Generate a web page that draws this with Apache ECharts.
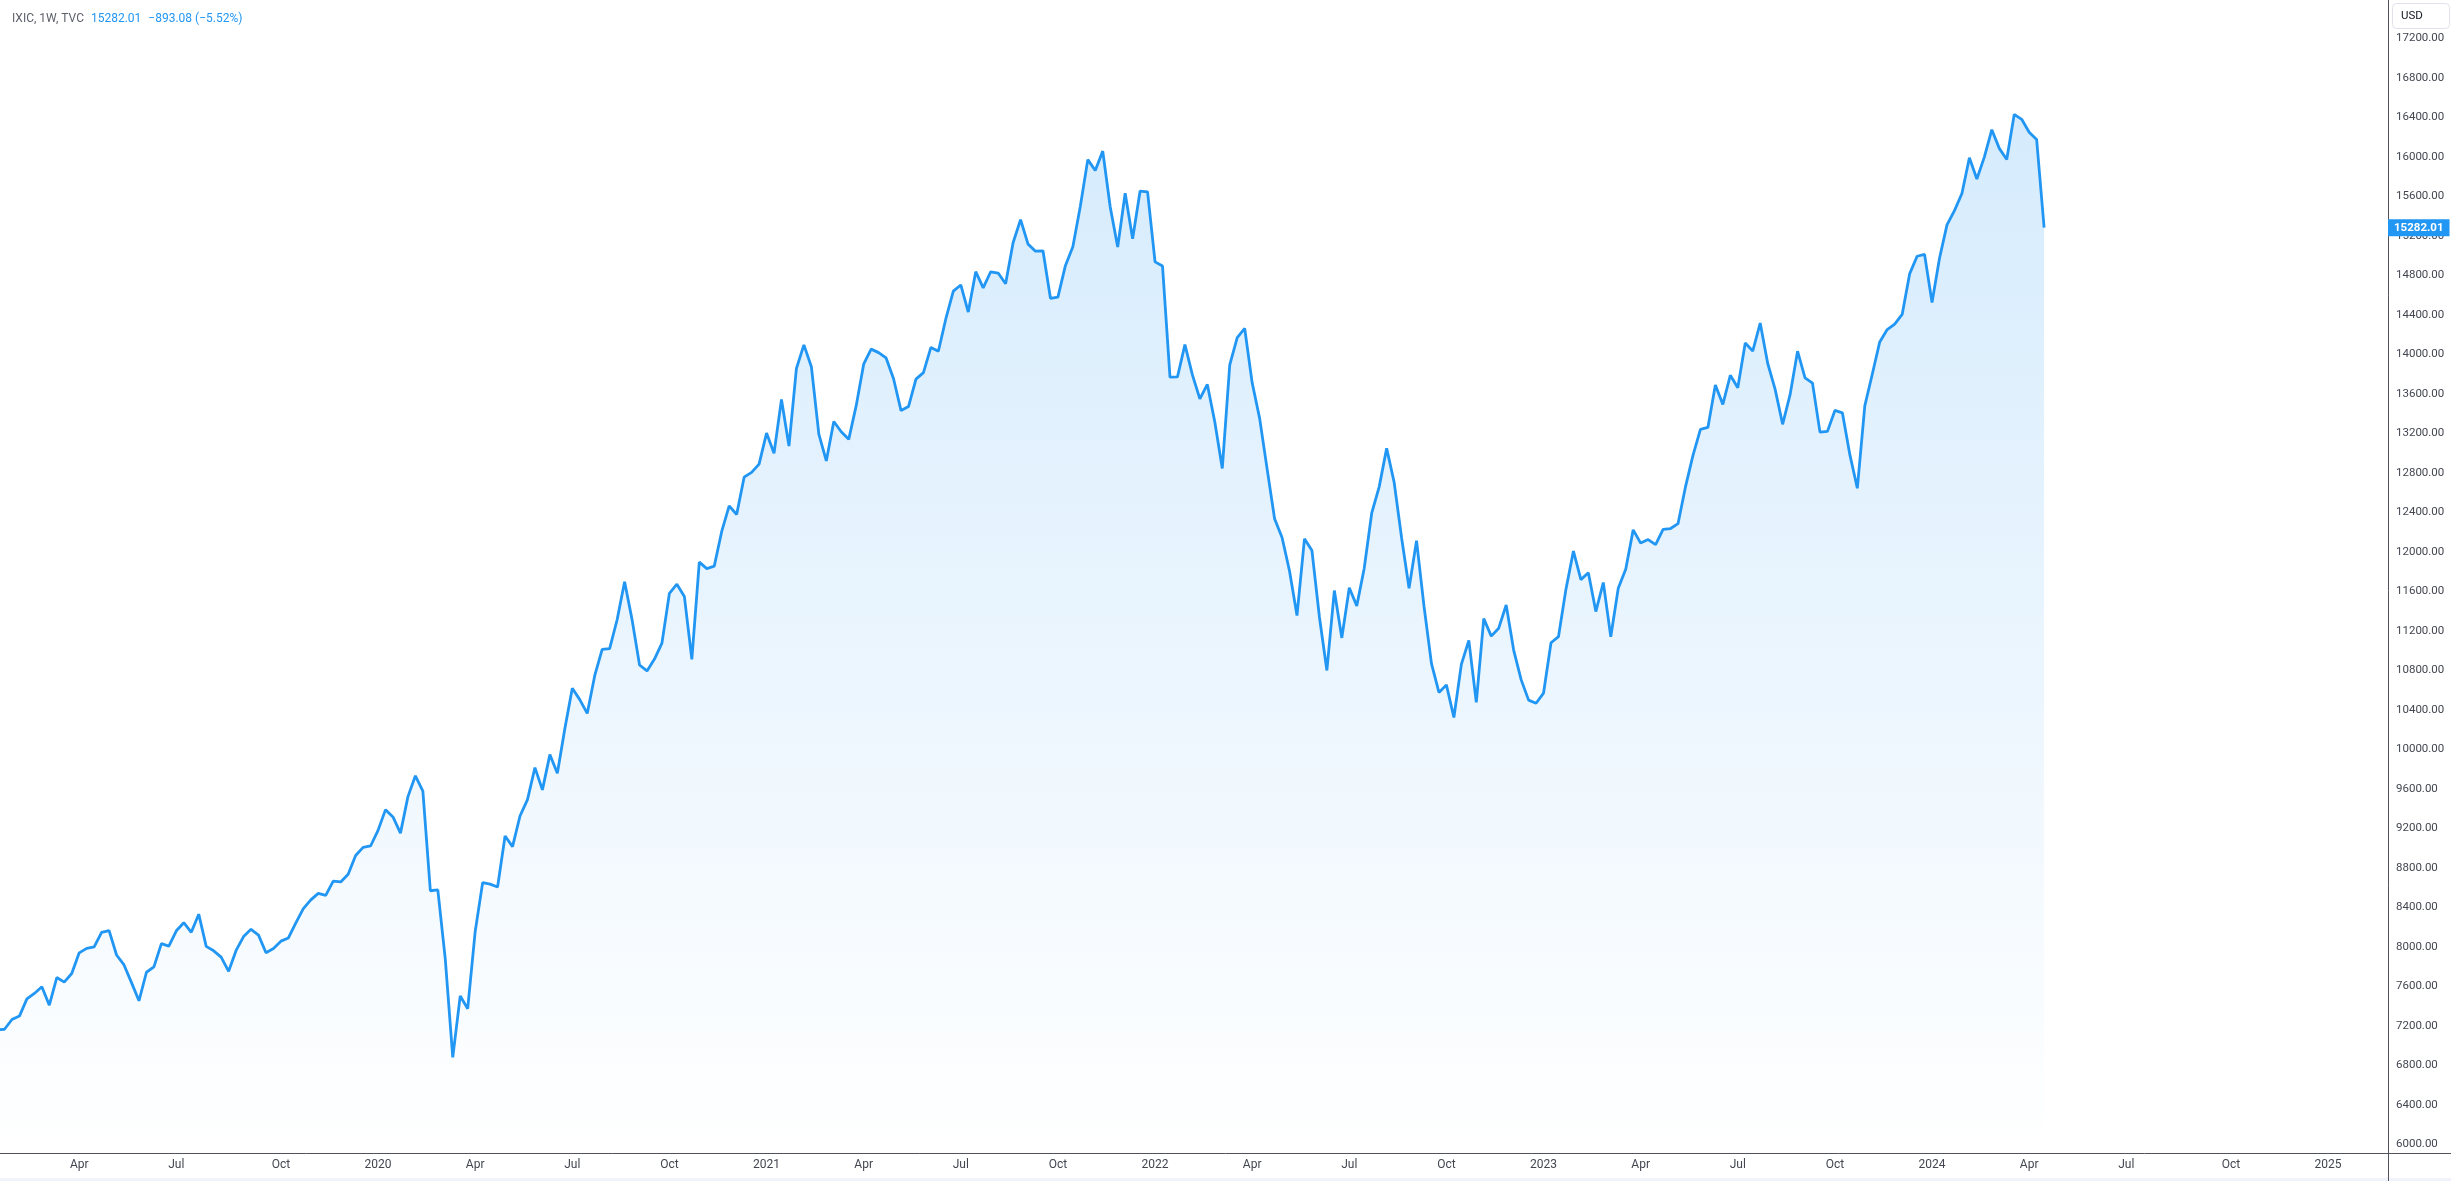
<!DOCTYPE html>
<html>
<head>
<meta charset="utf-8">
<style>
html,body{margin:0;padding:0;background:#ffffff;}
#chart{width:2451px;height:1181px;}
</style>
<script src="https://cdn.jsdelivr.net/npm/echarts@6/dist/echarts.min.js"></script>
</head>
<body>
<div id="chart"></div>
<script>
// Weekly bars (TradingView stamps each bar with the Monday of its week)
const firstWeek = '2019-01-14';

const closes2019 = [7157.23,7164.86,7263.87,7298.20,7472.41,7527.54,7595.35,7408.14,7688.53,7642.67,
  7729.32,7938.69,7984.16,7998.06,8146.40,8164.00,7916.94,7816.28,7637.01,7453.15,
  7742.10,7796.66,8031.71,8006.24,8161.79,8244.14,8146.49,8330.21,8004.07,7959.14,
  7895.99,7751.77,7962.88,8103.07,8176.71,8117.67,7939.63,7982.47,8057.04,8089.54,
  8243.12,8386.40,8475.31,8540.83,8519.89,8665.47,8656.53,8734.88,8924.96,9006.62];
const closes2020 = [9020.77,9178.86,9388.94,9314.91,9150.94,9520.51,9731.18,9576.59,8567.37,8575.62,
  7874.88,6879.52,7502.38,7373.08,8153.58,8650.14,8634.52,8604.95,9121.32,9014.56,
  9324.59,9489.87,9814.08,9588.81,9946.12,9757.22,10207.63,10617.44,10503.19,10363.18,
  10745.27,11010.98,11019.30,11311.80,11695.63,11313.13,10853.55,10793.28,10913.56,11075.02,
  11579.94,11671.56,11548.28,10911.59,11895.23,11829.29,11854.97,12205.85,12464.23,12377.87,
  12755.64,12804.73,12888.28];
const closes2021 = [13201.98,12998.50,13543.06,13070.69,13856.30,14095.47,13874.46,13192.35,12920.15,13319.86,
  13215.24,13138.73,13480.11,13900.19,14052.34,14016.81,13962.68,13752.24,13429.98,13470.99,
  13748.74,13814.49,14069.42,14030.38,14360.39,14639.33,14701.92,14427.24,14836.99,14672.68,
  14835.76,14822.90,14714.66,15129.50,15363.52,15115.49,15043.97,15047.70,14566.70,14579.54,
  14897.34,15090.20,15498.39,15971.59,15860.96,16057.44,15491.66,15085.47,15630.60,15169.68,
  15653.37,15644.97];
const closes2022 = [14935.90,14893.75,13768.92,13770.57,14098.01,13791.15,13548.07,13694.62,13313.44,12843.81,
  13893.84,14169.30,14261.50,13711.00,13351.08,12839.29,12334.64,12144.66,11805.00,11354.62,
  12131.13,12012.73,11340.02,10798.35,11607.62,11127.85,11635.31,11452.42,11834.11,12390.69,
  12657.55,13047.19,12705.22,12141.71,11630.86,12112.31,11448.40,10867.93,10575.62,10652.41,
  10321.39,10859.72,11102.45,10475.25,11323.33,11146.06,11226.36,11461.50,11004.62,10705.41,
  10497.86,10466.48];
const closes2023 = [10569.29,11079.16,11140.43,11621.71,12006.96,11718.12,11787.27,11394.94,11689.01,11138.89,
  11630.51,11823.96,12221.91,12087.96,12123.47,12072.46,12226.58,12235.41,12284.74,12657.90,
  12975.69,13240.77,13259.14,13689.57,13492.52,13787.92,13660.72,14113.70,14032.81,14316.66,
  13909.24,13644.85,13290.78,13590.65,14031.81,13761.53,13708.33,13211.81,13219.32,13431.34,
  13407.23,12983.81,12643.01,13478.28,13798.11,14125.48,14250.85,14305.03,14403.97,14813.92,
  14992.97,15011.35];
const closes2024 = [14524.07,14972.76,15310.97,15455.36,15628.95,15990.66,15775.65,15996.82,16274.94,16085.11,
  15973.17,16428.82,16379.46,16248.52,16175.09,15282.01];

const timeTickDates = ['2019-04-01','2019-07-01','2019-10-07','2020-01-06','2020-04-06','2020-07-06','2020-10-05',
  '2021-01-04','2021-04-05','2021-07-05','2021-10-04','2022-01-03','2022-04-04','2022-07-04','2022-10-03',
  '2023-01-02','2023-04-03','2023-07-03','2023-10-02','2024-01-01','2024-04-01','2024-07-01','2024-10-07','2025-01-06'];
const timeTickLabels = ['Apr','Jul','Oct','2020','Apr','Jul','Oct','2021','Apr','Jul','Oct','2022','Apr','Jul','Oct',
  '2023','Apr','Jul','Oct','2024','Apr','Jul','Oct','2025'];
const priceTicks = [6000,6400,6800,7200,7600,8000,8400,8800,9200,9600,10000,10400,10800,11200,11600,
  12000,12400,12800,13200,13600,14000,14400,14800,15200,15600,16000,16400,16800,17200];

const closes = [].concat(closes2019, closes2020, closes2021, closes2022, closes2023, closes2024);
const DAY = 86400000;
const t0 = Date.parse(firstWeek);
const seriesData = closes.map((v, i) => [t0 + i * 7 * DAY, v]);
const tickTimes = timeTickDates.map(d => Date.parse(d));

const last = closes[closes.length - 1];
const prev = closes[closes.length - 2];
const chg = last - prev;
const pct = chg / prev * 100;
const sgn = x => (x < 0 ? '\u2212' : '+') + Math.abs(x).toFixed(2);
const header = '{a|IXIC, 1W, TVC}{g|}{b|' + last.toFixed(2) + '}{g|}{b|' + sgn(chg) + ' (' + sgn(pct) + '%)}';

const chart = echarts.init(document.getElementById('chart'), null, {renderer: 'canvas'});
const lineColor = '#2196f3';
const axisColor = '#50535e';
const labelColor = '#434651';

chart.setOption({
  animation: false,
  backgroundColor: '#ffffff',
  textStyle: {fontFamily: 'Roboto'},
  title: {
    left: 7, top: 6,
    text: header,
    textStyle: {
      fontWeight: 'normal',
      rich: {
        a: {color: '#5d606b', fontSize: 12, fontWeight: 'normal', fontFamily: 'Roboto', lineHeight: 16},
        b: {color: lineColor, fontSize: 12, fontWeight: 'normal', fontFamily: 'Roboto', lineHeight: 16},
        g: {width: 7, lineHeight: 16}
      }
    }
  },
  grid: {left: 0, right: 63, top: 0, bottom: 28, containLabel: false, outerBoundsMode: 'none'},
  xAxis: {
    type: 'value',
    min: Date.UTC(2019, 0, 16, 19),
    max: Date.UTC(2025, 2, 3, 5),
    axisLine: {show: false},
    axisTick: {show: false},
    splitLine: {show: false},
    axisLabel: {
      customValues: tickTimes,
      formatter: function (val) {
        const i = tickTimes.indexOf(+val);
        return i >= 0 ? timeTickLabels[i] : '';
      },
      color: labelColor, fontSize: 12, margin: 6, fontFamily: 'Roboto',
      hideOverlap: false
    }
  },
  yAxis: {
    type: 'value',
    position: 'right',
    min: 5911.8,
    max: 17587.8,
    axisLine: {show: false},
    axisTick: {show: false},
    splitLine: {show: false},
    axisLabel: {
      customValues: priceTicks,
      formatter: v => Number(v).toFixed(2),
      color: labelColor, fontSize: 11.5, margin: 8, fontFamily: 'Roboto'
    }
  },
  series: [{
    type: 'line',
    data: seriesData,
    showSymbol: false,
    symbol: 'none',
    smooth: false,
    clip: false,
    lineStyle: {color: lineColor, width: 2.8},
    areaStyle: {
      color: new echarts.graphic.LinearGradient(0, 0, 0, 1, [
        {offset: 0, color: 'rgba(33,150,243,0.27)'},
        {offset: 1, color: 'rgba(33,150,243,0.0)'}
      ])
    },
    markLine: {
      silent: true,
      symbol: 'none',
      lineStyle: {color: 'rgba(0,0,0,0)', width: 0},
      data: [{yAxis: last}],
      label: {
        show: true,
        position: 'end',
        distance: 0,
        opacity: 1,
        formatter: last.toFixed(2),
        backgroundColor: lineColor,
        color: '#ffffff',
        fontWeight: 'bold',
        fontSize: 11.5,
        fontFamily: 'Roboto',
        padding: [3, 6, 2, 6],
        borderRadius: 0
      }
    }
  }],
  graphic: [
    {type: 'rect', shape: {x: 0, y: 1178, width: 2451, height: 3}, style: {fill: '#f0f3fa'}, silent: true},
    {type: 'line', shape: {x1: 0, y1: 1153.5, x2: 2451, y2: 1153.5}, style: {stroke: axisColor, lineWidth: 1}, silent: true},
    {type: 'line', shape: {x1: 2388.5, y1: 0, x2: 2388.5, y2: 1181}, style: {stroke: axisColor, lineWidth: 1}, silent: true},
    {type: 'rect', shape: {x: 2392.5, y: 3.5, width: 57, height: 25, r: 4}, style: {fill: '#ffffff', stroke: '#e0e3eb', lineWidth: 1}, silent: true},
    {type: 'text', x: 2401, y: 16.5, style: {text: 'USD', fill: '#131722', font: '11.5px Roboto', verticalAlign: 'middle'}, silent: true}
  ]
});
</script>
</body>
</html>
